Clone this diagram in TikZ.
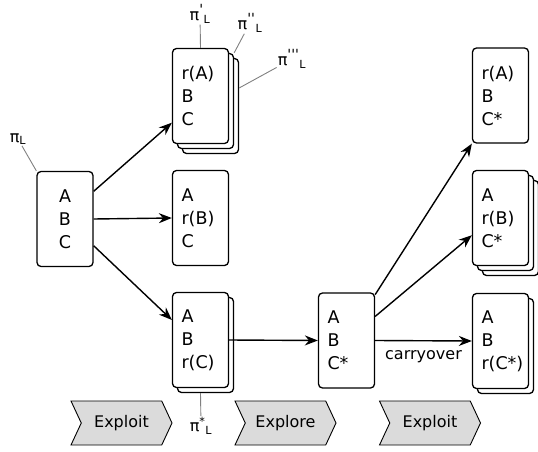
\documentclass[tikz,border=0pt]{standalone}
\usepackage{fontspec}
\setmainfont{DejaVu Sans}
\usetikzlibrary{arrows.meta,shadows,shapes.symbols}

\newcommand{\tick}[1]{\textsuperscript{\fontsize{14}{14}\selectfont #1}}

\begin{document}
\begin{tikzpicture}[x=1pt, y=-1pt, >={Stealth[length=13pt,width=10pt]},
    card/.style={draw, fill=white, line width=1.3pt, rounded corners=4pt,
      minimum width=56pt, minimum height=95pt, inner sep=0pt,
      text width=38pt, align=left, font=\fontsize{17.5}{23}\selectfont},
    stack/.style={copy shadow={shadow xshift=5pt, shadow yshift=-5pt}},
    deepstack/.style={copy shadow={shadow xshift=10pt, shadow yshift=-10pt}, stack},
    link/.style={->, line width=1.4pt},
    tag/.style={gray, line width=0.9pt},
    pilabel/.style={inner sep=1pt, font=\fontsize{16}{18}\selectfont},
    phase/.style={signal, signal from=west, signal to=east, signal pointer angle=130,
      draw, fill=black!14, line width=0.9pt, minimum width=101pt, minimum height=44pt,
      font=\fontsize{16}{18}\selectfont}]
  \useasboundingbox (0,0) rectangle (538,452);

  % policy cards
  \node[card, align=center] (left) at (65,219) {A\\B\\C};
  \node[card, deepstack] (top) at (200.5,96) {r(A)\\B\\C};
  \node[card] (mid) at (200.5,218) {A\\r(B)\\C};
  \node[card, stack] (bot) at (200.5,340) {A\\B\\r(C)};
  \node[card] (cen) at (346.5,340.5) {A\\B\\C*};
  \node[card] (rtop) at (500.5,95.5) {r(A)\\B\\C*};
  \node[card, deepstack] (rmid) at (500.5,218) {A\\r(B)\\C*};
  \node[card, stack] (rbot) at (500.5,341) {A\\B\\r(C*)};

  \coordinate (top2) at ([shift={(5,5)}]top.north east);
  \coordinate (top3) at ([shift={(10,-8)}]top.east);
  \coordinate (bot2) at ([shift={(0,5)}]bot.south);

  % labels
  \node[pilabel] (piL) at (18,139) {π\textsubscript{L}};
  \node[pilabel] (pi1) at (200,14) {π\tick{\textquotesingle}\textsubscript{L}};
  \node[pilabel] (pi2) at (250,23) {π\tick{\textquotesingle\textquotesingle}\textsubscript{L}};
  \node[pilabel] (pi3) at (292,59) {π\tick{\textquotesingle\textquotesingle\textquotesingle}\textsubscript{L}};
  \node[pilabel] (pistar) at (201,426) {π\textsuperscript{*}\textsubscript{L}};

  \draw[tag] (piL) -- (left.north west);
  \draw[tag] (pi1) -- (top.north);
  \draw[tag] (pi2) -- (top2);
  \draw[tag] (pi3) -- (top3);
  \draw[tag] (bot2) -- (pistar);

  % arrows
  \draw[link] (left.44) -- (top.223);
  \draw[link] (left.east) -- (mid.west);
  \draw[link] (left.-43) -- (bot.145);
  \draw[link] (bot.east) -- (cen.west);
  \draw[link] (cen.58) -- (rtop.south west);
  \draw[link] (cen.40) -- (rmid.211);
  \draw[link] (cen.east) -- node[below=6pt, font=\fontsize{16}{18}\selectfont] {carryover} (rbot.west);

  % phases
  \node[phase] (ph1) at (121.5,423) {Exploit};
  \node[phase] (ph2) at (285.5,423) {Explore};
  \node[phase] (ph3) at (430,423) {Exploit};
\end{tikzpicture}
\end{document}
